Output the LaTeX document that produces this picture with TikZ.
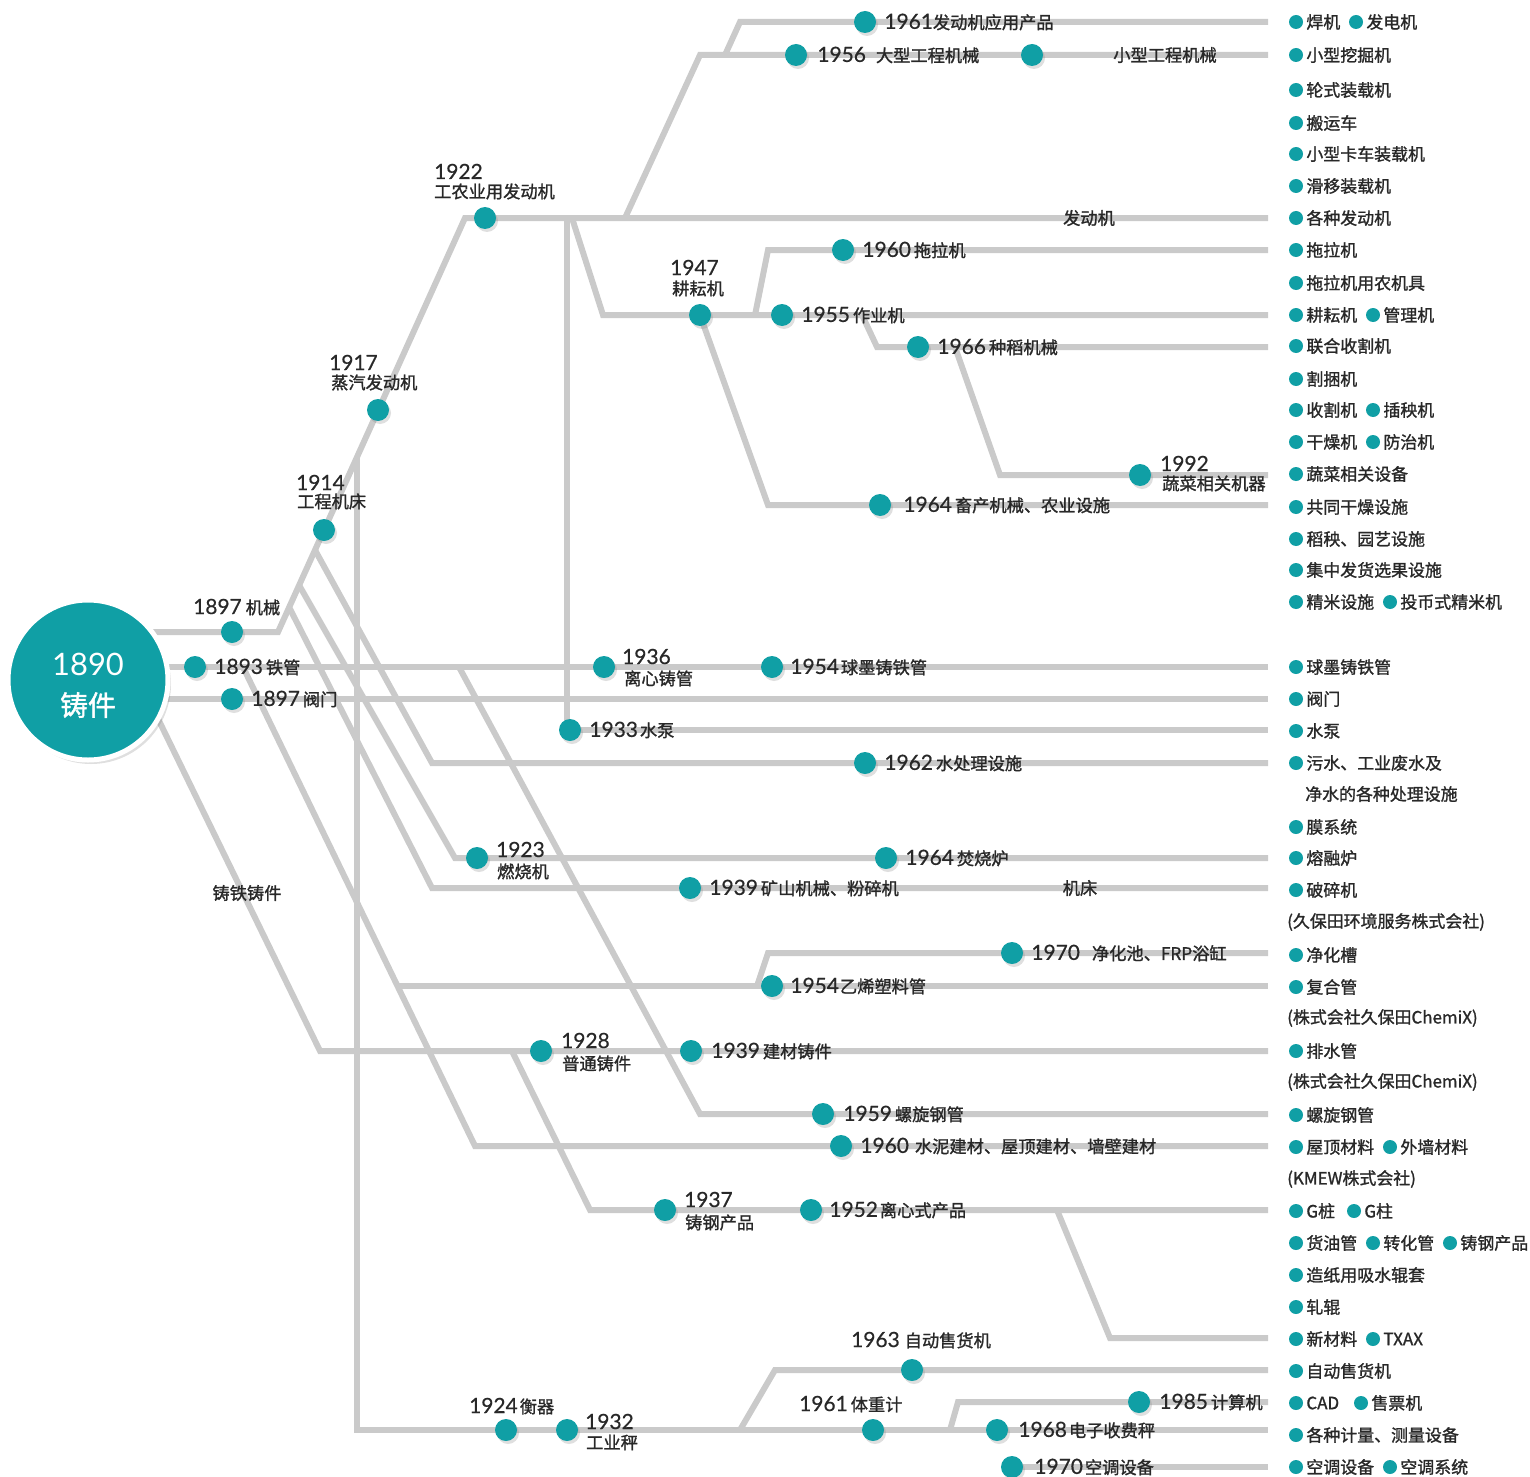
\documentclass[tikz,border=0pt]{standalone}
\usepackage{fontspec}
\setmainfont{Lato}
\newfontfamily\cjk[FakeBold=1.3]{Noto Sans CJK SC}
\newfontfamily\numfont[FakeBold=0.6]{Lato}
\newfontfamily\bignum{Lato}
\usetikzlibrary{shadows}
\definecolor{teal1}{RGB}{16,159,165}
\definecolor{lg}{RGB}{202,202,202}
\definecolor{txt}{RGB}{40,40,40}
\newcommand\yr[1]{{\numfont\fontsize{21}{21}\selectfont #1}}
\newcommand\cj{\cjk\fontsize{17.3}{17}\selectfont}
\newcommand\li[4]{\node[ldot] (#1) at (#2,#3) {}; \node[ltext] (#1t) at ([xshift=3bp]#1.east) {#4};}
\begin{document}
\begin{tikzpicture}[x=1bp,y=-1bp,
 conn/.style={draw=lg, line width=6bp},
 dot/.style={circle, fill=teal1, minimum size=22bp, inner sep=0pt, drop shadow={shadow xshift=2bp, shadow yshift=-3bp, opacity=0.25}},
 ldot/.style={circle, fill=teal1, minimum size=14bp, inner sep=0pt},
 lab/.style={anchor=west, inner sep=0pt, text=txt, font=\cj},
 blab/.style={anchor=base west, inner sep=0pt, text=txt, font=\cj},
 clab/.style={inner sep=0pt, text=txt, font=\cj},
 ltext/.style={anchor=west, inner sep=0pt, text=txt, font=\cjk\fontsize{17}{17}\selectfont},
]
\useasboundingbox (0,0) rectangle (1530,1477);
% end coordinates
\foreach \y in {22,55,218,250,315,347,475,505,667,699,730,763,858,888,953,986,1051,1114,1146,1210,1338,1370,1402,1430,1467}
  \coordinate (e\y) at (1268,\y);
% start points inside big circle
\coordinate (s1) at (100,632);
\coordinate (s2) at (100,667);
\coordinate (s3) at (100,699);
\coordinate (s4) at (144,690);
% corners
\coordinate (k1) at (278,632);
\coordinate (k2) at (465,218);
\coordinate (a4) at (320,1051);
\coordinate (v0) at (357,457);
\coordinate (v1) at (357,1430);
\coordinate (b62) at (315,550);  \coordinate (a62) at (432,763);
\coordinate (b23) at (299,585);  \coordinate (a23) at (455,858);
\coordinate (b39) at (289,607);  \coordinate (a39) at (432,888);
\coordinate (b60) at (243,667);  \coordinate (a60) at (475,1146);
\coordinate (a54) at (398,986);
\coordinate (b70) at (757,986);  \coordinate (a70) at (768,953);
\coordinate (b59) at (459,667);  \coordinate (a59) at (700,1114);
\coordinate (b37) at (512,1051); \coordinate (a37) at (590,1210);
\coordinate (bTX) at (1057,1210);\coordinate (aTX) at (1110,1338);
\coordinate (b63) at (740,1430); \coordinate (a63) at (775,1370);
\coordinate (b85) at (950,1430); \coordinate (a85) at (958,1402);
\coordinate (b33) at (567,218);  \coordinate (a33) at (567,730);
\coordinate (b47) at (572,218);  \coordinate (a47) at (603,315);
\coordinate (b60t) at (755,315); \coordinate (a60t) at (768,250);
\coordinate (b66) at (862,315);  \coordinate (a66) at (877,347);
\coordinate (b92) at (955,347);  \coordinate (a92) at (1000,475);
\coordinate (p47) at (700,315);  \coordinate (a64) at (768,505);
\coordinate (b56) at (625,218);  \coordinate (a56) at (700,55);
\coordinate (b61) at (725,55);   \coordinate (a61) at (740,22);
\coordinate (p70) at (1012,1467);
% connectors
\draw[conn] (s1) -- (k1) -- (k2) -- (e218);
\draw[conn] (s2) -- (e667);
\draw[conn] (s3) -- (e699);
\draw[conn] (s4) -- (a4) -- (e1051);
\draw[conn] (v0) -- (v1) -- (e1430);
\draw[conn] (b62) -- (a62) -- (e763);
\draw[conn] (b23) -- (a23) -- (e858);
\draw[conn] (b39) -- (a39) -- (e888);
\draw[conn] (b60) -- (a60) -- (e1146);
\draw[conn] (a54) -- (e986);
\draw[conn] (b70) -- (a70) -- (e953);
\draw[conn] (b59) -- (a59) -- (e1114);
\draw[conn] (b37) -- (a37) -- (e1210);
\draw[conn] (bTX) -- (aTX) -- (e1338);
\draw[conn] (b63) -- (a63) -- (e1370);
\draw[conn] (b85) -- (a85) -- (e1402);
\draw[conn] (p70) -- (e1467);
\draw[conn] (b33) -- (a33) -- (e730);
\draw[conn] (b47) -- (a47) -- (e315);
\draw[conn] (b60t) -- (a60t) -- (e250);
\draw[conn] (b66) -- (a66) -- (e347);
\draw[conn] (b92) -- (a92) -- (e475);
\draw[conn] (p47) -- (a64) -- (e505);
\draw[conn] (b56) -- (a56) -- (e55);
\draw[conn] (b61) -- (a61) -- (e22);
% big circle
\node[circle, fill=teal1, draw=white, line width=5bp, minimum size=160bp, inner sep=0pt,
  drop shadow={shadow xshift=3bp, shadow yshift=-4bp, opacity=0.25}] (c1890) at (88,680) {};
\node[text=white, inner sep=0pt, font=\bignum\fontsize{31}{31}\selectfont] (t1890) at (88,664) {1890};
\node[text=white, inner sep=0pt, font=\cjk\fontsize{28}{28}\selectfont] (t1890b) at (88,705) {铸件};
% dots
\foreach \n/\x/\y in {d1897a/232/632, d1893/195/667, d1897b/232/699, d1914/324/530, d1917/378/410,
  d1922/485/218, d1961a/865/22, d1956/796/55, d1956b/1032/55, d1960t/843/250, d1947/700/315,
  d1955/782/315, d1966/918/347, d1992/1140/475, d1964a/880/505, d1936/604/667, d1954a/772/667,
  d1933/570/730, d1962/865/763, d1923/477/858, d1964b/886/858, d1939a/690/888, d1970a/1012/953,
  d1954b/772/986, d1928/541/1051, d1939b/691/1051, d1959/823/1114, d1960s/841/1146, d1937/665/1210,
  d1952/811/1210, d1963/912/1370, d1985/1139/1402, d1924/506/1430, d1932/567/1430, d1961b/873/1430,
  d1968/997/1430, d1970b/1012/1467}
  \node[dot] (\n) at (\x,\y) {};
% inline labels
\node[lab] (l1961a) at ([xshift=8bp]d1961a.east) {\yr{1961}发动机应用产品};
\node[lab] (l1956) at ([xshift=10bp]d1956.east) {\yr{1956}\hspace{10bp}大型工程机械};
\node[lab] (l1960t) at ([xshift=8bp]d1960t.east) {\yr{1960}\hspace{3bp}拖拉机};
\node[lab] (l1955) at ([xshift=8bp]d1955.east) {\yr{1955}\hspace{3bp}作业机};
\node[lab] (l1966) at ([xshift=8bp]d1966.east) {\yr{1966}\hspace{3bp}种稻机械};
\node[lab] (l1964a) at ([xshift=12bp]d1964a.east) {\yr{1964}\hspace{3bp}畜产机械、农业设施};
\node[lab] (l1954a) at ([xshift=7bp]d1954a.east) {\yr{1954}\hspace{2bp}球墨铸铁管};
\node[lab] (l1893) at ([xshift=8bp]d1893.east) {\yr{1893}\hspace{3bp}铁管};
\node[lab] (l1897b) at ([xshift=8bp]d1897b.east) {\yr{1897}\hspace{3bp}阀门};
\node[lab] (l1933) at ([xshift=8bp]d1933.east) {\yr{1933}\hspace{2bp}水泵};
\node[lab] (l1962) at ([xshift=8bp]d1962.east) {\yr{1962}\hspace{3bp}水处理设施};
\node[lab] (l1964b) at ([xshift=8bp]d1964b.east) {\yr{1964}\hspace{3bp}焚烧炉};
\node[lab] (l1939a) at ([xshift=8bp]d1939a.east) {\yr{1939}\hspace{3bp}矿山机械、粉碎机};
\node[lab] (l1970a) at ([xshift=8bp]d1970a.east) {\yr{1970}\hspace{12bp}净化池、FRP浴缸};
\node[lab] (l1954b) at ([xshift=7bp]d1954b.east) {\yr{1954}\hspace{1bp}乙烯塑料管};
\node[lab] (l1939b) at ([xshift=9bp]d1939b.east) {\yr{1939}\hspace{3bp}建材铸件};
\node[lab] (l1959) at ([xshift=9bp]d1959.east) {\yr{1959}\hspace{3bp}螺旋钢管};
\node[lab] (l1960s) at ([xshift=8bp]d1960s.east) {\yr{1960}\hspace{6bp}水泥建材、屋顶建材、墙壁建材};
\node[lab] (l1952) at ([xshift=7bp]d1952.east) {\yr{1952}\hspace{2bp}离心式产品};
\node[lab] (l1985) at ([xshift=9bp]d1985.east) {\yr{1985}\hspace{3bp}计算机};
\node[lab] (l1968) at ([xshift=10bp]d1968.east) {\yr{1968}\hspace{2bp}电子收费秤};
\node[lab] (l1970b) at ([xshift=11bp]d1970b.east) {\yr{1970}\hspace{2bp}空调设备};
% stacked labels
\node[blab] (y1922) at (434,179) {\yr{1922}};  \node[blab] (t1922) at (434,198) {工农业用发动机};
\node[blab] (y1917) at (329,370) {\yr{1917}};  \node[blab] (t1917) at (331,389) {蒸汽发动机};
\node[blab] (y1914) at (296,490) {\yr{1914}};  \node[blab] (t1914) at (297,508) {工程机床};
\node[blab] (y1947) at (670,275) {\yr{1947}};  \node[blab] (t1947) at (672,295) {耕耘机};
\node[blab] (y1992) at (1160,471) {\yr{1992}}; \node[blab] (t1992) at (1162,490) {蔬菜相关机器};
\node[blab] (y1936) at (622,664) {\yr{1936}};  \node[blab] (t1936) at (624,685) {离心铸管};
\node[blab] (y1923) at (496,857) {\yr{1923}};  \node[blab] (t1923) at (497,878) {燃烧机};
\node[blab] (y1928) at (561,1048) {\yr{1928}}; \node[blab] (t1928) at (562,1070) {普通铸件};
\node[blab] (y1937) at (684,1207) {\yr{1937}}; \node[blab] (t1937) at (685,1229) {铸钢产品};
\node[blab] (y1932) at (585,1429) {\yr{1932}}; \node[blab] (t1932) at (586,1449) {工业秤};
\node[blab] (l1963) at (851,1347) {\yr{1963}\hspace{5bp}自动售货机};
\node[blab] (l1961b) at (799,1411) {\yr{1961}\hspace{3bp}体重计};
\node[blab] (l1924) at (469,1413) {\yr{1924}\hspace{2bp}衡器};
\node[blab] (l1897a) at (193,614) {\yr{1897}\hspace{4bp}机械};
\node[clab] (lzt) at (247,893) {铸铁铸件};
\node[clab] (ljc) at (1080,888) {机床};
\node[clab] (lfdj) at (1089,218) {发动机};
\node[clab] (lxx) at (1165,55) {小型工程机械};
% right list
\li{r1}{1296}{22}{焊机} \li{r1b}{1356}{22}{发电机}
\li{r2}{1296}{55}{小型挖掘机}
\li{r3}{1296}{90}{轮式装载机}
\li{r4}{1296}{123}{搬运车}
\li{r5}{1296}{154}{小型卡车装载机}
\li{r6}{1296}{186}{滑移装载机}
\li{r7}{1296}{218}{各种发动机}
\li{r8}{1296}{250}{拖拉机}
\li{r9}{1296}{283}{拖拉机用农机具}
\li{r10}{1296}{315}{耕耘机} \li{r10b}{1373}{315}{管理机}
\li{r11}{1296}{346}{联合收割机}
\li{r12}{1296}{379}{割捆机}
\li{r13}{1296}{410}{收割机} \li{r13b}{1373}{410}{插秧机}
\li{r14}{1296}{442}{干燥机} \li{r14b}{1373}{442}{防治机}
\li{r15}{1296}{474}{蔬菜相关设备}
\li{r16}{1296}{507}{共同干燥设施}
\li{r17}{1296}{539}{稻秧、园艺设施}
\li{r18}{1296}{570}{集中发货选果设施}
\li{r19}{1296}{602}{精米设施} \li{r19b}{1390}{602}{投币式精米机}
\li{r20}{1296}{667}{球墨铸铁管}
\li{r21}{1296}{699}{阀门}
\li{r22}{1296}{731}{水泵}
\li{r23}{1296}{763}{污水、工业废水及}
\node[ltext] (r24) at (1305,794) {净水的各种处理设施};
\li{r25}{1296}{827}{膜系统}
\li{r26}{1296}{858}{熔融炉}
\li{r27}{1296}{890}{破碎机}
\node[ltext] (r28) at (1287,922) {(久保田环境服务株式会社)};
\li{r29}{1296}{955}{净化槽}
\li{r30}{1296}{987}{复合管}
\node[ltext] (r31) at (1287,1018) {(株式会社久保田ChemiX)};
\li{r32}{1296}{1051}{排水管}
\node[ltext] (r33) at (1287,1082) {(株式会社久保田ChemiX)};
\li{r34}{1296}{1115}{螺旋钢管}
\li{r35}{1296}{1147}{屋顶材料} \li{r35b}{1390}{1147}{外墙材料}
\node[ltext] (r36) at (1287,1179) {(KMEW株式会社)};
\li{r37}{1296}{1211}{G桩} \li{r37b}{1354}{1211}{G柱}
\li{r38}{1296}{1243}{货油管} \li{r38b}{1373}{1243}{转化管} \li{r38c}{1450}{1243}{铸钢产品}
\li{r39}{1296}{1275}{造纸用吸水辊套}
\li{r40}{1296}{1307}{轧辊}
\li{r41}{1296}{1339}{新材料} \li{r41b}{1373}{1339}{TXAX}
\li{r42}{1296}{1371}{自动售货机}
\li{r43}{1296}{1403}{CAD} \li{r43b}{1361}{1403}{售票机}
\li{r44}{1296}{1435}{各种计量、测量设备}
\li{r45}{1296}{1467}{空调设备} \li{r45b}{1390}{1467}{空调系统}
\end{tikzpicture}
\end{document}
